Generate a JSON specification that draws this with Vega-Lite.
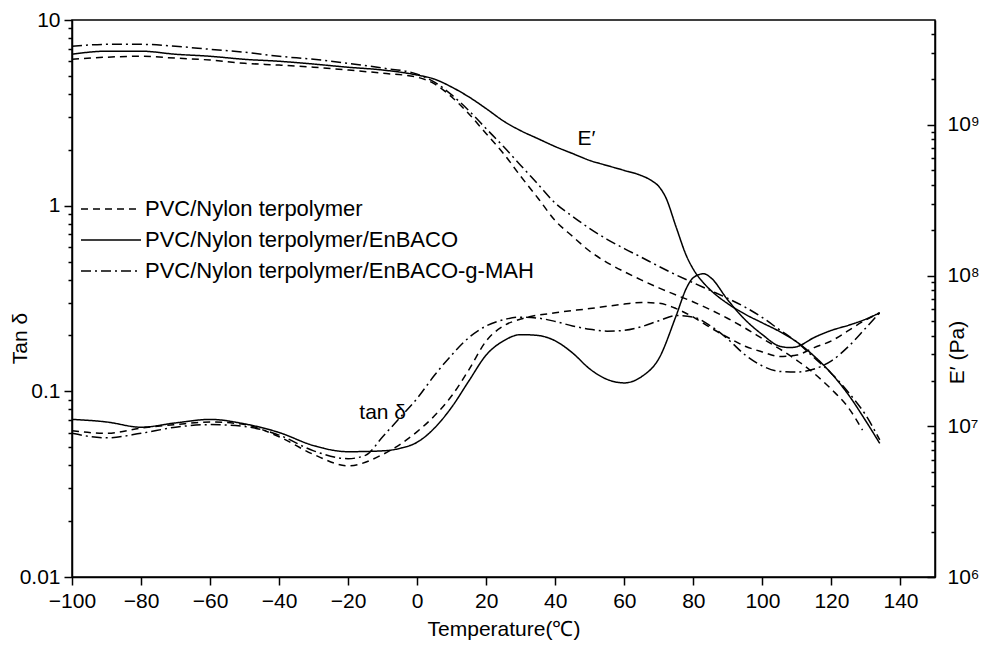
{
 "$schema": "https://vega.github.io/schema/vega-lite/v6.json",
 "width": 863, "height": 557,
 "autosize": {"type": "none"},
 "padding": {"left": 72, "top": 20, "right": 48, "bottom": 70},
 "background": "white",
 "config": {
  "font": "Liberation Sans",
  "view": {"stroke": "black", "strokeWidth": 1.5},
  "axis": {"grid": false, "domainColor": "black", "domainWidth": 1.5, "tickColor": "black", "tickWidth": 1.5, "labelColor": "black", "titleColor": "black", "labelFontSize": 21, "titleFontSize": 21, "titleFontWeight": "normal", "labelFont": "Liberation Sans", "titleFont": "Liberation Sans"}
 },
 "datasets": {
  "tan": [
   {"sample":"PVC/Nylon terpolymer","T":-100,"tan":0.0614},{"sample":"PVC/Nylon terpolymer","T":-90,"tan":0.0594},{"sample":"PVC/Nylon terpolymer","T":-80,"tan":0.0634},{"sample":"PVC/Nylon terpolymer","T":-70,"tan":0.0662},{"sample":"PVC/Nylon terpolymer","T":-60,"tan":0.0684},{"sample":"PVC/Nylon terpolymer","T":-50,"tan":0.0662},{"sample":"PVC/Nylon terpolymer","T":-40,"tan":0.0569},{"sample":"PVC/Nylon terpolymer","T":-30,"tan":0.0457},{"sample":"PVC/Nylon terpolymer","T":-20,"tan":0.0397},{"sample":"PVC/Nylon terpolymer","T":-10,"tan":0.0457},{"sample":"PVC/Nylon terpolymer","T":0,"tan":0.0607},{"sample":"PVC/Nylon terpolymer","T":5,"tan":0.0738},{"sample":"PVC/Nylon terpolymer","T":10,"tan":0.0946},{"sample":"PVC/Nylon terpolymer","T":15,"tan":0.131},{"sample":"PVC/Nylon terpolymer","T":20,"tan":0.187},{"sample":"PVC/Nylon terpolymer","T":25,"tan":0.225},{"sample":"PVC/Nylon terpolymer","T":30,"tan":0.245},{"sample":"PVC/Nylon terpolymer","T":40,"tan":0.265},{"sample":"PVC/Nylon terpolymer","T":50,"tan":0.279},{"sample":"PVC/Nylon terpolymer","T":60,"tan":0.295},{"sample":"PVC/Nylon terpolymer","T":65,"tan":0.301},{"sample":"PVC/Nylon terpolymer","T":70,"tan":0.298},{"sample":"PVC/Nylon terpolymer","T":75,"tan":0.279},{"sample":"PVC/Nylon terpolymer","T":80,"tan":0.251},{"sample":"PVC/Nylon terpolymer","T":85,"tan":0.22},{"sample":"PVC/Nylon terpolymer","T":90,"tan":0.195},{"sample":"PVC/Nylon terpolymer","T":95,"tan":0.175},{"sample":"PVC/Nylon terpolymer","T":100,"tan":0.163},{"sample":"PVC/Nylon terpolymer","T":105,"tan":0.154},{"sample":"PVC/Nylon terpolymer","T":110,"tan":0.157},{"sample":"PVC/Nylon terpolymer","T":115,"tan":0.172},{"sample":"PVC/Nylon terpolymer","T":120,"tan":0.187},{"sample":"PVC/Nylon terpolymer","T":125,"tan":0.213},{"sample":"PVC/Nylon terpolymer","T":130,"tan":0.243},{"sample":"PVC/Nylon terpolymer","T":134,"tan":0.265},
   {"sample":"PVC/Nylon terpolymer/EnBACO","T":-100,"tan":0.0706},{"sample":"PVC/Nylon terpolymer/EnBACO","T":-90,"tan":0.0684},{"sample":"PVC/Nylon terpolymer/EnBACO","T":-80,"tan":0.0641},{"sample":"PVC/Nylon terpolymer/EnBACO","T":-70,"tan":0.0676},{"sample":"PVC/Nylon terpolymer/EnBACO","T":-60,"tan":0.0706},{"sample":"PVC/Nylon terpolymer/EnBACO","T":-50,"tan":0.0668},{"sample":"PVC/Nylon terpolymer/EnBACO","T":-40,"tan":0.06},{"sample":"PVC/Nylon terpolymer/EnBACO","T":-30,"tan":0.051},{"sample":"PVC/Nylon terpolymer/EnBACO","T":-20,"tan":0.0473},{"sample":"PVC/Nylon terpolymer/EnBACO","T":-10,"tan":0.0478},{"sample":"PVC/Nylon terpolymer/EnBACO","T":-5,"tan":0.0493},{"sample":"PVC/Nylon terpolymer/EnBACO","T":0,"tan":0.0532},{"sample":"PVC/Nylon terpolymer/EnBACO","T":5,"tan":0.0634},{"sample":"PVC/Nylon terpolymer/EnBACO","T":10,"tan":0.0822},{"sample":"PVC/Nylon terpolymer/EnBACO","T":15,"tan":0.114},{"sample":"PVC/Nylon terpolymer/EnBACO","T":20,"tan":0.157},{"sample":"PVC/Nylon terpolymer/EnBACO","T":25,"tan":0.187},{"sample":"PVC/Nylon terpolymer/EnBACO","T":30,"tan":0.202},{"sample":"PVC/Nylon terpolymer/EnBACO","T":35,"tan":0.2},{"sample":"PVC/Nylon terpolymer/EnBACO","T":40,"tan":0.187},{"sample":"PVC/Nylon terpolymer/EnBACO","T":45,"tan":0.161},{"sample":"PVC/Nylon terpolymer/EnBACO","T":50,"tan":0.132},{"sample":"PVC/Nylon terpolymer/EnBACO","T":55,"tan":0.116},{"sample":"PVC/Nylon terpolymer/EnBACO","T":60,"tan":0.111},{"sample":"PVC/Nylon terpolymer/EnBACO","T":65,"tan":0.12},{"sample":"PVC/Nylon terpolymer/EnBACO","T":70,"tan":0.15},{"sample":"PVC/Nylon terpolymer/EnBACO","T":75,"tan":0.255},{"sample":"PVC/Nylon terpolymer/EnBACO","T":78,"tan":0.36},{"sample":"PVC/Nylon terpolymer/EnBACO","T":80,"tan":0.41},{"sample":"PVC/Nylon terpolymer/EnBACO","T":83,"tan":0.43},{"sample":"PVC/Nylon terpolymer/EnBACO","T":85,"tan":0.41},{"sample":"PVC/Nylon terpolymer/EnBACO","T":90,"tan":0.31},{"sample":"PVC/Nylon terpolymer/EnBACO","T":95,"tan":0.243},{"sample":"PVC/Nylon terpolymer/EnBACO","T":100,"tan":0.202},{"sample":"PVC/Nylon terpolymer/EnBACO","T":105,"tan":0.175},{"sample":"PVC/Nylon terpolymer/EnBACO","T":108,"tan":0.172},{"sample":"PVC/Nylon terpolymer/EnBACO","T":110,"tan":0.174},{"sample":"PVC/Nylon terpolymer/EnBACO","T":115,"tan":0.195},{"sample":"PVC/Nylon terpolymer/EnBACO","T":120,"tan":0.213},{"sample":"PVC/Nylon terpolymer/EnBACO","T":125,"tan":0.227},{"sample":"PVC/Nylon terpolymer/EnBACO","T":130,"tan":0.245},{"sample":"PVC/Nylon terpolymer/EnBACO","T":134,"tan":0.265},
   {"sample":"PVC/Nylon terpolymer/EnBACO-g-MAH","T":-100,"tan":0.0594},{"sample":"PVC/Nylon terpolymer/EnBACO-g-MAH","T":-90,"tan":0.0562},{"sample":"PVC/Nylon terpolymer/EnBACO-g-MAH","T":-80,"tan":0.0594},{"sample":"PVC/Nylon terpolymer/EnBACO-g-MAH","T":-70,"tan":0.0641},{"sample":"PVC/Nylon terpolymer/EnBACO-g-MAH","T":-60,"tan":0.0662},{"sample":"PVC/Nylon terpolymer/EnBACO-g-MAH","T":-50,"tan":0.0647},{"sample":"PVC/Nylon terpolymer/EnBACO-g-MAH","T":-40,"tan":0.0581},{"sample":"PVC/Nylon terpolymer/EnBACO-g-MAH","T":-30,"tan":0.0478},{"sample":"PVC/Nylon terpolymer/EnBACO-g-MAH","T":-20,"tan":0.0434},{"sample":"PVC/Nylon terpolymer/EnBACO-g-MAH","T":-15,"tan":0.0452},{"sample":"PVC/Nylon terpolymer/EnBACO-g-MAH","T":-10,"tan":0.0569},{"sample":"PVC/Nylon terpolymer/EnBACO-g-MAH","T":-5,"tan":0.0722},{"sample":"PVC/Nylon terpolymer/EnBACO-g-MAH","T":0,"tan":0.0917},{"sample":"PVC/Nylon terpolymer/EnBACO-g-MAH","T":5,"tan":0.122},{"sample":"PVC/Nylon terpolymer/EnBACO-g-MAH","T":10,"tan":0.157},{"sample":"PVC/Nylon terpolymer/EnBACO-g-MAH","T":15,"tan":0.195},{"sample":"PVC/Nylon terpolymer/EnBACO-g-MAH","T":20,"tan":0.225},{"sample":"PVC/Nylon terpolymer/EnBACO-g-MAH","T":25,"tan":0.243},{"sample":"PVC/Nylon terpolymer/EnBACO-g-MAH","T":30,"tan":0.251},{"sample":"PVC/Nylon terpolymer/EnBACO-g-MAH","T":35,"tan":0.248},{"sample":"PVC/Nylon terpolymer/EnBACO-g-MAH","T":40,"tan":0.238},{"sample":"PVC/Nylon terpolymer/EnBACO-g-MAH","T":45,"tan":0.225},{"sample":"PVC/Nylon terpolymer/EnBACO-g-MAH","T":50,"tan":0.216},{"sample":"PVC/Nylon terpolymer/EnBACO-g-MAH","T":55,"tan":0.211},{"sample":"PVC/Nylon terpolymer/EnBACO-g-MAH","T":60,"tan":0.213},{"sample":"PVC/Nylon terpolymer/EnBACO-g-MAH","T":65,"tan":0.223},{"sample":"PVC/Nylon terpolymer/EnBACO-g-MAH","T":70,"tan":0.24},{"sample":"PVC/Nylon terpolymer/EnBACO-g-MAH","T":75,"tan":0.256},{"sample":"PVC/Nylon terpolymer/EnBACO-g-MAH","T":80,"tan":0.251},{"sample":"PVC/Nylon terpolymer/EnBACO-g-MAH","T":85,"tan":0.225},{"sample":"PVC/Nylon terpolymer/EnBACO-g-MAH","T":90,"tan":0.191},{"sample":"PVC/Nylon terpolymer/EnBACO-g-MAH","T":95,"tan":0.157},{"sample":"PVC/Nylon terpolymer/EnBACO-g-MAH","T":100,"tan":0.137},{"sample":"PVC/Nylon terpolymer/EnBACO-g-MAH","T":105,"tan":0.128},{"sample":"PVC/Nylon terpolymer/EnBACO-g-MAH","T":110,"tan":0.127},{"sample":"PVC/Nylon terpolymer/EnBACO-g-MAH","T":115,"tan":0.132},{"sample":"PVC/Nylon terpolymer/EnBACO-g-MAH","T":120,"tan":0.146},{"sample":"PVC/Nylon terpolymer/EnBACO-g-MAH","T":125,"tan":0.175},{"sample":"PVC/Nylon terpolymer/EnBACO-g-MAH","T":130,"tan":0.22},{"sample":"PVC/Nylon terpolymer/EnBACO-g-MAH","T":134,"tan":0.265}
  ],
  "modulus": [
   {"sample":"PVC/Nylon terpolymer","T":-100,"E":2.72e9},{"sample":"PVC/Nylon terpolymer","T":-90,"E":2.81e9},{"sample":"PVC/Nylon terpolymer","T":-80,"E":2.85e9},{"sample":"PVC/Nylon terpolymer","T":-70,"E":2.77e9},{"sample":"PVC/Nylon terpolymer","T":-60,"E":2.69e9},{"sample":"PVC/Nylon terpolymer","T":-50,"E":2.56e9},{"sample":"PVC/Nylon terpolymer","T":-40,"E":2.49e9},{"sample":"PVC/Nylon terpolymer","T":-30,"E":2.41e9},{"sample":"PVC/Nylon terpolymer","T":-20,"E":2.31e9},{"sample":"PVC/Nylon terpolymer","T":-10,"E":2.2e9},{"sample":"PVC/Nylon terpolymer","T":0,"E":2.07e9},{"sample":"PVC/Nylon terpolymer","T":5,"E":1.87e9},{"sample":"PVC/Nylon terpolymer","T":10,"E":1.53e9},{"sample":"PVC/Nylon terpolymer","T":15,"E":1.18e9},{"sample":"PVC/Nylon terpolymer","T":20,"E":8.73e8},{"sample":"PVC/Nylon terpolymer","T":25,"E":6.45e8},{"sample":"PVC/Nylon terpolymer","T":30,"E":4.55e8},{"sample":"PVC/Nylon terpolymer","T":35,"E":3.26e8},{"sample":"PVC/Nylon terpolymer","T":40,"E":2.31e8},{"sample":"PVC/Nylon terpolymer","T":45,"E":1.82e8},{"sample":"PVC/Nylon terpolymer","T":50,"E":1.45e8},{"sample":"PVC/Nylon terpolymer","T":55,"E":1.22e8},{"sample":"PVC/Nylon terpolymer","T":60,"E":1.06e8},{"sample":"PVC/Nylon terpolymer","T":65,"E":9.33e7},{"sample":"PVC/Nylon terpolymer","T":70,"E":8.28e7},{"sample":"PVC/Nylon terpolymer","T":75,"E":7.43e7},{"sample":"PVC/Nylon terpolymer","T":80,"E":6.68e7},{"sample":"PVC/Nylon terpolymer","T":85,"E":5.93e7},{"sample":"PVC/Nylon terpolymer","T":90,"E":5.19e7},{"sample":"PVC/Nylon terpolymer","T":95,"E":4.48e7},{"sample":"PVC/Nylon terpolymer","T":100,"E":3.82e7},{"sample":"PVC/Nylon terpolymer","T":105,"E":3.26e7},{"sample":"PVC/Nylon terpolymer","T":110,"E":2.74e7},{"sample":"PVC/Nylon terpolymer","T":115,"E":2.24e7},{"sample":"PVC/Nylon terpolymer","T":120,"E":1.76e7},{"sample":"PVC/Nylon terpolymer","T":125,"E":1.32e7},{"sample":"PVC/Nylon terpolymer","T":129,"E":9.42e6},
   {"sample":"PVC/Nylon terpolymer/EnBACO","T":-100,"E":2.94e9},{"sample":"PVC/Nylon terpolymer/EnBACO","T":-90,"E":3.08e9},{"sample":"PVC/Nylon terpolymer/EnBACO","T":-80,"E":3.08e9},{"sample":"PVC/Nylon terpolymer/EnBACO","T":-70,"E":2.94e9},{"sample":"PVC/Nylon terpolymer/EnBACO","T":-60,"E":2.85e9},{"sample":"PVC/Nylon terpolymer/EnBACO","T":-50,"E":2.72e9},{"sample":"PVC/Nylon terpolymer/EnBACO","T":-40,"E":2.64e9},{"sample":"PVC/Nylon terpolymer/EnBACO","T":-30,"E":2.53e9},{"sample":"PVC/Nylon terpolymer/EnBACO","T":-20,"E":2.41e9},{"sample":"PVC/Nylon terpolymer/EnBACO","T":-10,"E":2.31e9},{"sample":"PVC/Nylon terpolymer/EnBACO","T":0,"E":2.14e9},{"sample":"PVC/Nylon terpolymer/EnBACO","T":5,"E":2.01e9},{"sample":"PVC/Nylon terpolymer/EnBACO","T":10,"E":1.78e9},{"sample":"PVC/Nylon terpolymer/EnBACO","T":15,"E":1.53e9},{"sample":"PVC/Nylon terpolymer/EnBACO","T":20,"E":1.28e9},{"sample":"PVC/Nylon terpolymer/EnBACO","T":25,"E":1.06e9},{"sample":"PVC/Nylon terpolymer/EnBACO","T":30,"E":9.14e8},{"sample":"PVC/Nylon terpolymer/EnBACO","T":35,"E":8.09e8},{"sample":"PVC/Nylon terpolymer/EnBACO","T":40,"E":7.17e8},{"sample":"PVC/Nylon terpolymer/EnBACO","T":45,"E":6.45e8},{"sample":"PVC/Nylon terpolymer/EnBACO","T":50,"E":5.8e8},{"sample":"PVC/Nylon terpolymer/EnBACO","T":55,"E":5.37e8},{"sample":"PVC/Nylon terpolymer/EnBACO","T":60,"E":4.98e8},{"sample":"PVC/Nylon terpolymer/EnBACO","T":65,"E":4.6e8},{"sample":"PVC/Nylon terpolymer/EnBACO","T":68,"E":4.25e8},{"sample":"PVC/Nylon terpolymer/EnBACO","T":70,"E":3.9e8},{"sample":"PVC/Nylon terpolymer/EnBACO","T":72,"E":3.3e8},{"sample":"PVC/Nylon terpolymer/EnBACO","T":75,"E":2.1e8},{"sample":"PVC/Nylon terpolymer/EnBACO","T":78,"E":1.35e8},{"sample":"PVC/Nylon terpolymer/EnBACO","T":80,"E":1.1e8},{"sample":"PVC/Nylon terpolymer/EnBACO","T":83,"E":8.9e7},{"sample":"PVC/Nylon terpolymer/EnBACO","T":85,"E":8.0e7},{"sample":"PVC/Nylon terpolymer/EnBACO","T":90,"E":6.5e7},{"sample":"PVC/Nylon terpolymer/EnBACO","T":95,"E":5.54e7},{"sample":"PVC/Nylon terpolymer/EnBACO","T":100,"E":4.85e7},{"sample":"PVC/Nylon terpolymer/EnBACO","T":105,"E":4.25e7},{"sample":"PVC/Nylon terpolymer/EnBACO","T":110,"E":3.62e7},{"sample":"PVC/Nylon terpolymer/EnBACO","T":115,"E":2.92e7},{"sample":"PVC/Nylon terpolymer/EnBACO","T":120,"E":2.24e7},{"sample":"PVC/Nylon terpolymer/EnBACO","T":125,"E":1.61e7},{"sample":"PVC/Nylon terpolymer/EnBACO","T":130,"E":1.08e7},{"sample":"PVC/Nylon terpolymer/EnBACO","T":134,"E":7.69e6},
   {"sample":"PVC/Nylon terpolymer/EnBACO-g-MAH","T":-100,"E":3.32e9},{"sample":"PVC/Nylon terpolymer/EnBACO-g-MAH","T":-90,"E":3.42e9},{"sample":"PVC/Nylon terpolymer/EnBACO-g-MAH","T":-80,"E":3.42e9},{"sample":"PVC/Nylon terpolymer/EnBACO-g-MAH","T":-70,"E":3.32e9},{"sample":"PVC/Nylon terpolymer/EnBACO-g-MAH","T":-60,"E":3.17e9},{"sample":"PVC/Nylon terpolymer/EnBACO-g-MAH","T":-50,"E":3.03e9},{"sample":"PVC/Nylon terpolymer/EnBACO-g-MAH","T":-40,"E":2.85e9},{"sample":"PVC/Nylon terpolymer/EnBACO-g-MAH","T":-30,"E":2.72e9},{"sample":"PVC/Nylon terpolymer/EnBACO-g-MAH","T":-20,"E":2.56e9},{"sample":"PVC/Nylon terpolymer/EnBACO-g-MAH","T":-10,"E":2.38e9},{"sample":"PVC/Nylon terpolymer/EnBACO-g-MAH","T":0,"E":2.17e9},{"sample":"PVC/Nylon terpolymer/EnBACO-g-MAH","T":5,"E":1.92e9},{"sample":"PVC/Nylon terpolymer/EnBACO-g-MAH","T":10,"E":1.58e9},{"sample":"PVC/Nylon terpolymer/EnBACO-g-MAH","T":15,"E":1.24e9},{"sample":"PVC/Nylon terpolymer/EnBACO-g-MAH","T":20,"E":9.42e8},{"sample":"PVC/Nylon terpolymer/EnBACO-g-MAH","T":25,"E":7.17e8},{"sample":"PVC/Nylon terpolymer/EnBACO-g-MAH","T":30,"E":5.38e8},{"sample":"PVC/Nylon terpolymer/EnBACO-g-MAH","T":35,"E":4.03e8},{"sample":"PVC/Nylon terpolymer/EnBACO-g-MAH","T":40,"E":3.02e8},{"sample":"PVC/Nylon terpolymer/EnBACO-g-MAH","T":45,"E":2.47e8},{"sample":"PVC/Nylon terpolymer/EnBACO-g-MAH","T":50,"E":2.05e8},{"sample":"PVC/Nylon terpolymer/EnBACO-g-MAH","T":55,"E":1.74e8},{"sample":"PVC/Nylon terpolymer/EnBACO-g-MAH","T":60,"E":1.51e8},{"sample":"PVC/Nylon terpolymer/EnBACO-g-MAH","T":65,"E":1.32e8},{"sample":"PVC/Nylon terpolymer/EnBACO-g-MAH","T":70,"E":1.15e8},{"sample":"PVC/Nylon terpolymer/EnBACO-g-MAH","T":75,"E":1.01e8},{"sample":"PVC/Nylon terpolymer/EnBACO-g-MAH","T":80,"E":8.95e7},{"sample":"PVC/Nylon terpolymer/EnBACO-g-MAH","T":85,"E":7.95e7},{"sample":"PVC/Nylon terpolymer/EnBACO-g-MAH","T":90,"E":7.05e7},{"sample":"PVC/Nylon terpolymer/EnBACO-g-MAH","T":95,"E":6.17e7},{"sample":"PVC/Nylon terpolymer/EnBACO-g-MAH","T":100,"E":5.26e7},{"sample":"PVC/Nylon terpolymer/EnBACO-g-MAH","T":105,"E":4.36e7},{"sample":"PVC/Nylon terpolymer/EnBACO-g-MAH","T":110,"E":3.62e7},{"sample":"PVC/Nylon terpolymer/EnBACO-g-MAH","T":115,"E":2.85e7},{"sample":"PVC/Nylon terpolymer/EnBACO-g-MAH","T":120,"E":2.24e7},{"sample":"PVC/Nylon terpolymer/EnBACO-g-MAH","T":125,"E":1.67e7},{"sample":"PVC/Nylon terpolymer/EnBACO-g-MAH","T":130,"E":1.18e7},{"sample":"PVC/Nylon terpolymer/EnBACO-g-MAH","T":134,"E":8.13e6}
  ]
 },
 "layer": [
  {
   "layer": [
    {
     "data": {"name": "tan"},
     "mark": {"type": "line", "color": "black", "strokeWidth": 1.5, "interpolate": "monotone"},
     "encoding": {
      "x": {"field": "T", "type": "quantitative", "scale": {"domain": [-100, 150], "nice": false, "zero": false},
            "axis": {"title": "Temperature(℃)", "values": [-100,-90,-80,-70,-60,-50,-40,-30,-20,-10,0,10,20,30,40,50,60,70,80,90,100,110,120,130,140],
                     "labelExpr": "datum.value % 20 == 0 ? datum.label : ''",
                     "tickSize": {"condition": {"test": "datum.value % 20 == 0", "value": 8}, "value": 4},
                     "labelPadding": 5, "titlePadding": 7, "labelFlush": false}},
      "y": {"field": "tan", "type": "quantitative", "scale": {"type": "log", "domain": [0.01, 10], "nice": false},
            "axis": {"title": "Tan δ", "orient": "left", "format": "~g", "titleX": -42, "titleY": 318,
                     "values": [0.01,0.02,0.03,0.04,0.05,0.06,0.07,0.08,0.09,0.1,0.2,0.3,0.4,0.5,0.6,0.7,0.8,0.9,1,2,3,4,5,6,7,8,9,10],
                     "labelExpr": "(datum.value == 0.01 || datum.value == 0.1 || datum.value == 1 || datum.value == 10) ? datum.label : ''",
                     "tickSize": {"condition": {"test": "datum.value == 0.01 || datum.value == 0.1 || datum.value == 1 || datum.value == 10", "value": 8}, "value": 4},
                     "labelPadding": 4, "labelFlush": false}},
      "strokeDash": {"field": "sample", "type": "nominal",
                     "scale": {"domain": ["PVC/Nylon terpolymer", "PVC/Nylon terpolymer/EnBACO", "PVC/Nylon terpolymer/EnBACO-g-MAH"],
                               "range": [[7, 5], [1, 0], [10, 4, 2, 4]]},
                     "legend": {"orient": "none", "legendX": 28, "legendY": 178, "title": null, "padding": 0,
                                "symbolType": "M-3,0H3", "symbolSize": 400, "symbolStrokeWidth": 1.5, "symbolStrokeColor": "black",
                                "labelFontSize": 22, "labelOffset": 23, "rowPadding": 9, "labelColor": "black", "labelFont": "Liberation Sans", "labelLimit": 0}}
     }
    },
    {
     "data": {"values": [{"label": "tan δ", "T": -10, "tan": 0.076}]},
     "mark": {"type": "text", "fontSize": 21, "color": "black", "font": "Liberation Sans"},
     "encoding": {
      "x": {"field": "T", "type": "quantitative"},
      "y": {"field": "tan", "type": "quantitative"},
      "text": {"field": "label"}
     }
    }
   ]
  },
  {
   "layer": [
    {
     "data": {"name": "modulus"},
     "mark": {"type": "line", "color": "black", "strokeWidth": 1.5, "interpolate": "monotone"},
     "encoding": {
      "x": {"field": "T", "type": "quantitative"},
      "y": {"field": "E", "type": "quantitative", "scale": {"type": "log", "domain": [1000000, 4960000000], "nice": false},
            "axis": {"title": "E′ (Pa)", "orient": "right", "titleAngle": 270, "titleX": 32, "titleY": 332,
                     "values": [1e6,2e6,3e6,4e6,5e6,6e6,7e6,8e6,9e6,1e7,2e7,3e7,4e7,5e7,6e7,7e7,8e7,9e7,1e8,2e8,3e8,4e8,5e8,6e8,7e8,8e8,9e8,1e9,2e9,3e9,4e9],
                     "labelExpr": "datum.value == 1e6 ? '10⁶' : datum.value == 1e7 ? '10⁷' : datum.value == 1e8 ? '10⁸' : datum.value == 1e9 ? '10⁹' : ''",
                     "tickSize": {"condition": {"test": "datum.value == 1e6 || datum.value == 1e7 || datum.value == 1e8 || datum.value == 1e9", "value": -8}, "value": -4},
                     "labelPadding": 20, "labelFlush": false}},
      "strokeDash": {"field": "sample", "type": "nominal"}
     }
    },
    {
     "data": {"values": [{"label": "E′", "T": 49, "E": 810000000}]},
     "mark": {"type": "text", "fontSize": 21, "color": "black", "font": "Liberation Sans"},
     "encoding": {
      "x": {"field": "T", "type": "quantitative"},
      "y": {"field": "E", "type": "quantitative"},
      "text": {"field": "label"}
     }
    }
   ]
  }
 ],
 "resolve": {"scale": {"y": "independent"}}
}
